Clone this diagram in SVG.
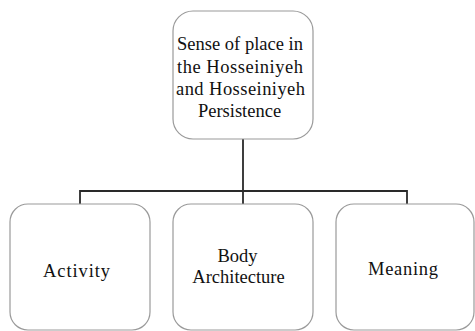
<svg xmlns="http://www.w3.org/2000/svg" width="475" height="331" viewBox="0 0 475 331">
<style>
.box{fill:#fff;stroke:#9a9a9a;stroke-width:1.2}
.t{font-size:18.5px;fill:#111}
.c{fill:none;stroke:#2a2a2a;stroke-width:1.8}
</style>
<rect width="475" height="331" fill="#fff"/>
<g id="connectors">
<line class="c" x1="243" y1="139" x2="243" y2="204"/>
<polyline class="c" points="80,204 80,191 407,191 407,204"/>
</g>
<g font-family="Liberation Serif, serif">
<g id="root">
<rect class="box" x="173" y="11" width="140" height="128" rx="20"/>
<text class="t" x="177" y="50" textLength="126" lengthAdjust="spacing">Sense of place in</text>
<text class="t" x="177" y="72.5" textLength="126" lengthAdjust="spacing">the  Hosseiniyeh</text>
<text class="t" x="176" y="95" textLength="129" lengthAdjust="spacing">and Hosseiniyeh</text>
<text class="t" x="239.5" y="117" text-anchor="middle">Persistence</text>
</g>
<g id="activity">
<rect class="box" x="10" y="204" width="140" height="126" rx="18"/>
<text class="t" x="43" y="277" textLength="67" lengthAdjust="spacing">Activity</text>
</g>
<g id="body">
<rect class="box" x="173" y="204" width="140" height="126" rx="18"/>
<text class="t" x="237.5" y="262" text-anchor="middle">Body</text>
<text class="t" x="238.5" y="283" text-anchor="middle">Architecture</text>
</g>
<g id="meaning">
<rect class="box" x="336" y="204" width="138" height="126" rx="18"/>
<text class="t" x="368" y="275" textLength="70" lengthAdjust="spacing">Meaning</text>
</g>
</g>
</svg>
